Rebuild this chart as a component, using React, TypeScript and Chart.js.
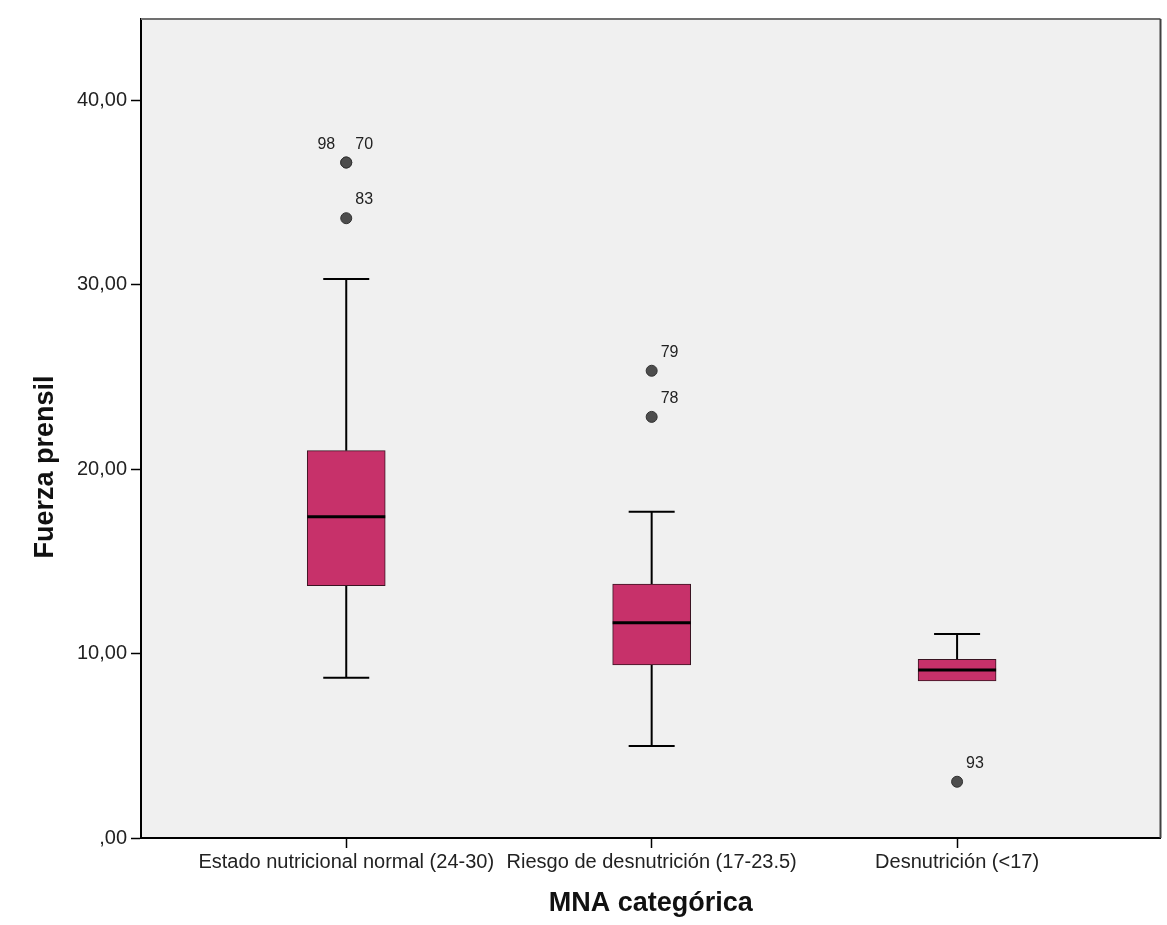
import React, { useEffect, useRef } from 'react';
import { Chart, registerables } from 'chart.js';

Chart.register(...registerables);

// ---- data ----
const categories = [
  'Estado nutricional normal (24-30)',
  'Riesgo de desnutrición (17-23.5)',
  'Desnutrición (<17)',
];
const whiskerLow = [8.69, 4.99, 8.51];
const q1 = [13.68, 9.38, 8.51];
const median = [17.41, 11.67, 9.11];
const q3 = [21.0, 13.77, 9.69];
const whiskerHigh = [30.31, 17.69, 11.06];

const outlierCategory = [0, 0, 0, 1, 1, 2];
const outlierValue = [36.62, 36.62, 33.6, 25.33, 22.83, 3.05];
const outlierLabel = ['98', '70', '83', '79', '78', '93'];

const yTicks = [0, 10, 20, 30, 40];
const yMax = 44.4;
const xMin = -0.672;
const xMax = 2.666;

const xTitle = 'MNA categórica';
const yTitle = 'Fuerza prensil';

const FONT = '"Liberation Sans", Arial, Helvetica, sans-serif';

const fmt = (v: number) => (v === 0 ? ',00' : v.toFixed(2).replace('.', ','));

export default function App() {
  const ref = useRef<HTMLCanvasElement>(null);

  useEffect(() => {
    const canvas = ref.current;
    if (!canvas) return;

    const extras = {
      id: 'boxExtras',
      beforeDraw(chart: any) {
        const { ctx, chartArea: a } = chart;
        ctx.save();
        ctx.fillStyle = '#f0f0f0';
        ctx.fillRect(a.left, a.top, a.right - a.left, a.bottom - a.top);
        ctx.restore();
      },
      beforeDatasetsDraw(chart: any) {
        const { ctx } = chart;
        const xs = chart.scales.x;
        const ys = chart.scales.y;
        ctx.save();
        ctx.strokeStyle = '#000';
        ctx.lineWidth = 2;
        categories.forEach((_, i) => {
          const px = xs.getPixelForValue(i);
          const cap = 23;
          if (whiskerHigh[i] > q3[i]) {
            const yh = ys.getPixelForValue(whiskerHigh[i]);
            ctx.beginPath();
            ctx.moveTo(px, ys.getPixelForValue(q3[i]));
            ctx.lineTo(px, yh);
            ctx.moveTo(px - cap, yh);
            ctx.lineTo(px + cap, yh);
            ctx.stroke();
          }
          if (whiskerLow[i] < q1[i]) {
            const yl = ys.getPixelForValue(whiskerLow[i]);
            ctx.beginPath();
            ctx.moveTo(px, ys.getPixelForValue(q1[i]));
            ctx.lineTo(px, yl);
            ctx.moveTo(px - cap, yl);
            ctx.lineTo(px + cap, yl);
            ctx.stroke();
          }
        });
        ctx.restore();
      },
      afterDatasetsDraw(chart: any) {
        const { ctx } = chart;
        const xs = chart.scales.x;
        const ys = chart.scales.y;
        const bars = chart.getDatasetMeta(0).data;
        ctx.save();
        ctx.strokeStyle = '#000';
        ctx.lineWidth = 3;
        categories.forEach((_, i) => {
          const w = bars[i].width;
          const px = xs.getPixelForValue(i);
          const py = ys.getPixelForValue(median[i]);
          ctx.beginPath();
          ctx.moveTo(px - w / 2, py);
          ctx.lineTo(px + w / 2, py);
          ctx.stroke();
        });
        // outlier labels
        ctx.fillStyle = '#222';
        ctx.font = `16px ${FONT}`;
        ctx.textBaseline = 'alphabetic';
        outlierLabel.forEach((lab, i) => {
          const px = xs.getPixelForValue(outlierCategory[i]);
          const py = ys.getPixelForValue(outlierValue[i]);
          const sharedWithNext = outlierLabel.some(
            (_, j) => j > i && outlierCategory[j] === outlierCategory[i] && outlierValue[j] === outlierValue[i]
          );
          if (sharedWithNext) {
            ctx.textAlign = 'right';
            ctx.fillText(lab, px - 11, py - 14);
          } else {
            ctx.textAlign = 'left';
            ctx.fillText(lab, px + 9, py - 14);
          }
        });
        ctx.restore();
      },
      afterDraw(chart: any) {
        const { ctx, chartArea: a } = chart;
        ctx.save();
        ctx.lineWidth = 2;
        ctx.strokeStyle = '#707070';
        ctx.beginPath();
        ctx.moveTo(a.left, a.top);
        ctx.lineTo(a.right, a.top);
        ctx.stroke();
        ctx.strokeStyle = '#404040';
        ctx.beginPath();
        ctx.moveTo(a.right, a.top);
        ctx.lineTo(a.right, a.bottom);
        ctx.stroke();
        // y axis title
        ctx.translate(46, 467);
        ctx.rotate(-Math.PI / 2);
        ctx.fillStyle = '#111';
        ctx.font = `bold 27px ${FONT}`;
        ctx.textAlign = 'center';
        ctx.textBaseline = 'middle';
        ctx.fillText(yTitle, 0, 0);
        ctx.restore();
      },
    };

    const chart = new Chart(canvas, {
      type: 'bar',
      data: {
        datasets: [
          {
            type: 'bar',
            data: categories.map((_, i) => ({ x: i, y: [q1[i], q3[i]] })) as any,
            backgroundColor: '#c7316a',
            borderColor: '#3a1422',
            borderWidth: 1,
            borderSkipped: false,
            barThickness: 78,
          } as any,
          {
            type: 'scatter',
            data: outlierValue.map((v, i) => ({ x: outlierCategory[i], y: v })),
            pointRadius: 5.5,
            pointBackgroundColor: '#4d4d4d',
            pointBorderColor: '#333',
            pointBorderWidth: 1,
            showLine: false,
          } as any,
        ],
      },
      options: {
        responsive: false,
        animation: false,
        layout: { padding: { top: 19, right: 3, left: 0, bottom: 0 } },
        plugins: { legend: { display: false }, tooltip: { enabled: false } },
        scales: {
          x: {
            type: 'linear',
            min: xMin,
            max: xMax,
            offset: false,
            afterBuildTicks: (s: any) => {
              s.ticks = categories.map((_, i) => ({ value: i }));
            },
            afterFit: (s: any) => {
              s.height = 87;
            },
            ticks: {
              callback: (v: any) => categories[v] ?? '',
              font: { size: 20, family: FONT },
              color: '#222',
              padding: 2,
              maxRotation: 0,
              autoSkip: false,
            },
            grid: {
              drawOnChartArea: false,
              drawTicks: true,
              tickLength: 10,
              tickColor: '#000',
              tickWidth: 1.5,
              offset: false,
            },
            border: { color: '#000', width: 2 },
            title: {
              display: true,
              text: xTitle,
              font: { size: 27, weight: 'bold', family: FONT },
              color: '#111',
              padding: { top: 0, bottom: 5 },
            },
          } as any,
          y: {
            type: 'linear',
            min: 0,
            max: yMax,
            afterBuildTicks: (s: any) => {
              s.ticks = yTicks.map((v) => ({ value: v }));
            },
            afterFit: (s: any) => {
              s.width = 141;
            },
            ticks: {
              callback: (v: any) => fmt(Number(v)),
              font: { size: 20, family: FONT },
              color: '#222',
              padding: 4,
            },
            grid: {
              drawOnChartArea: false,
              drawTicks: true,
              tickLength: 10,
              tickColor: '#000',
              tickWidth: 1.5,
            },
            border: { color: '#000', width: 2 },
          } as any,
        },
      },
      plugins: [extras],
    });

    return () => chart.destroy();
  }, []);

  return (
    <div style={{ position: 'absolute', left: 0, top: 0, width: 1167, height: 925, background: '#fff' }}>
      <canvas ref={ref} width={1167} height={925} style={{ display: 'block' }} />
    </div>
  );
}
